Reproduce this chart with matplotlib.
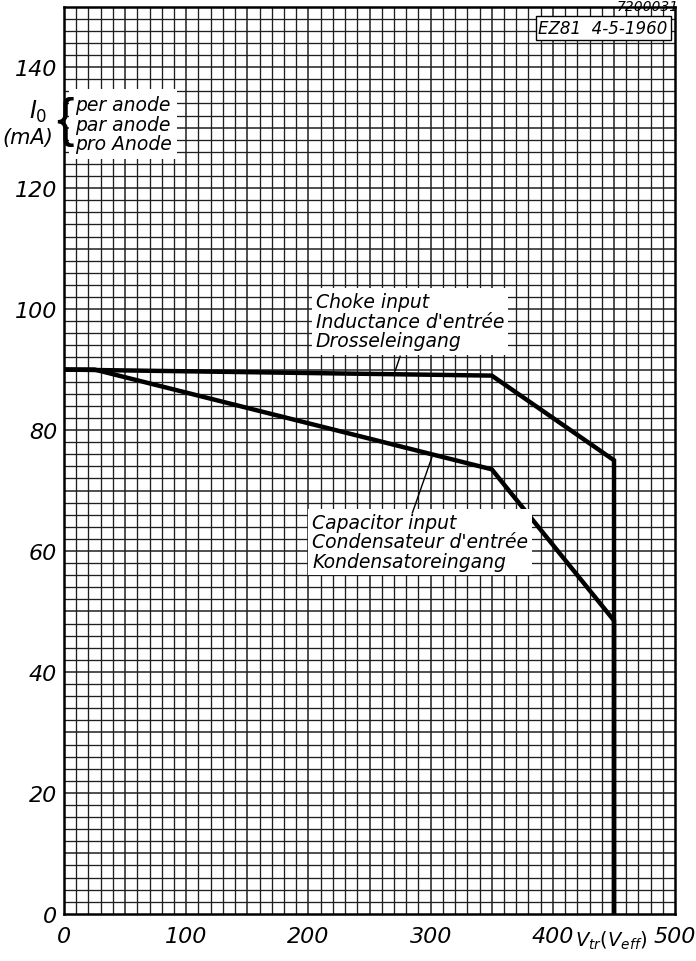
import numpy as np
import matplotlib.pyplot as plt

# Data (Vtr in V rms, I0 in mA per anode)
choke_v = [0, 350, 450, 450]
choke_i = [90, 89, 75, 0]
cap_v = [0, 25, 350, 450, 450]
cap_i = [90, 90, 73.5, 48.5, 0]

x_ticks = [0, 100, 200, 300, 400, 500]
y_ticks = [0, 20, 40, 60, 80, 100, 120, 140]

plt.rcParams['font.family'] = 'DejaVu Sans'
plt.rcParams['mathtext.fontset'] = 'dejavusans'

fig = plt.figure(figsize=(6.96, 9.62), dpi=100)
ax = fig.add_axes([0.092, 0.049, 0.878, 0.943])
ax.set_xlim(0, 500)
ax.set_ylim(0, 150)

# graph paper grid
for v in np.arange(10, 500, 10):
    ax.axvline(v, color='#1f1f1f', lw=1.1 if v % 50 == 0 else 0.95, zorder=1)
for i in np.arange(2, 150, 2):
    ax.axhline(i, color='#1f1f1f', lw=1.1 if i % 10 == 0 else 0.95, zorder=1)

for s in ax.spines.values():
    s.set_linewidth(1.8)

# curves
ax.plot(choke_v, choke_i, color='black', lw=3.2, solid_joinstyle='miter', zorder=3)
ax.plot(cap_v, cap_i, color='black', lw=3.2, solid_joinstyle='miter', zorder=3)

# ticks
ax.set_xticks(x_ticks)
ax.set_xticklabels([str(t) for t in x_ticks], fontsize=16, style='italic')
ax.set_yticks(y_ticks)
ax.set_yticklabels([str(t) for t in y_ticks], fontsize=16, style='italic')
ax.tick_params(length=0)
ax.tick_params(axis='x', pad=9)
ax.tick_params(axis='y', pad=5)

ax.text(448, -2.5, r'$V_{tr}(V_{eff})$', fontsize=14, ha='center', va='top')

# annotations
box = dict(facecolor='white', edgecolor='none', pad=3)
ax.text(206, 98, "Choke input\nInductance d'entrée\nDrosseleingang",
        fontsize=13.5, style='italic', ha='left', va='center',
        linespacing=1.05, bbox=box, zorder=4)
ax.plot([275, 271], [92.2, 89.8], color='black', lw=1, zorder=4)

ax.text(203, 61.5, "Capacitor input\nCondensateur d'entrée\nKondensatoreingang",
        fontsize=13.5, style='italic', ha='left', va='center',
        linespacing=1.05, bbox=box, zorder=4)
ax.plot([301, 285], [75.5, 66.3], color='black', lw=1, zorder=4)

# y-axis label block
ax.text(9, 130.6, "per anode\npar anode\npro Anode", fontsize=13.5,
        style='italic', ha='left', va='center', linespacing=1.05,
        bbox=dict(facecolor='white', edgecolor='none', pad=4), zorder=4)
fig.text(0.055, 0.884, r'$I_0$', fontsize=17, ha='center', va='center')
fig.text(0.040, 0.857, '(mA)', fontsize=15, style='italic', ha='center', va='center')
fig.text(0.093, 0.873, '{', fontsize=38, family='Liberation Sans',
         ha='center', va='center')

# identification
ax.text(494, 148, 'EZ81  4-5-1960', fontsize=12, style='italic',
        ha='right', va='top',
        bbox=dict(facecolor='white', edgecolor='black', lw=1, pad=2), zorder=4)
fig.text(0.975, 0.9995, '7200031', fontsize=10, style='italic',
         ha='right', va='top')

fig.savefig('out.png', dpi=100)
